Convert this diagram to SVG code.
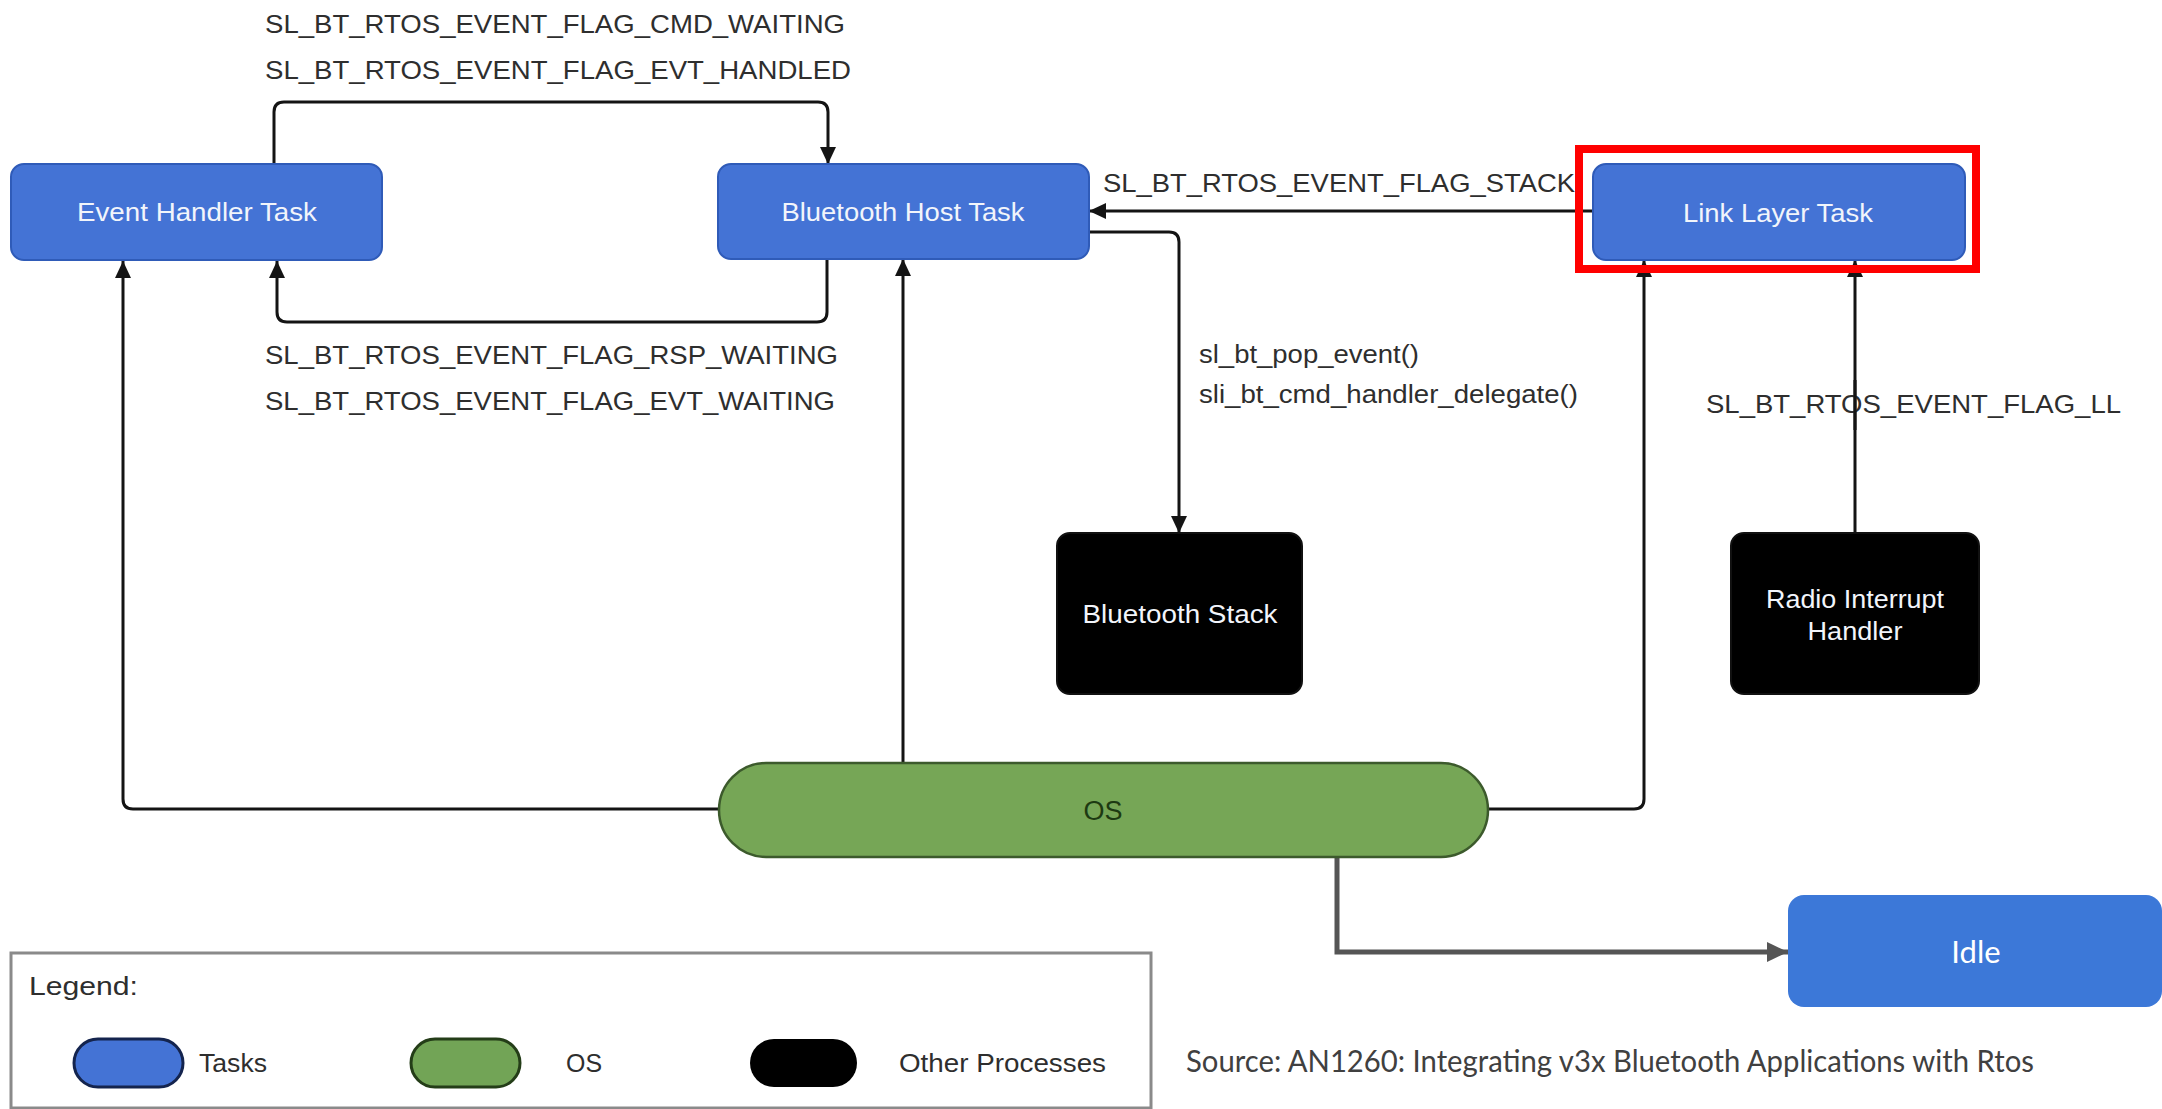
<svg xmlns="http://www.w3.org/2000/svg" width="2162" height="1109" viewBox="0 0 2162 1109">
  <style>
    .bg { fill: #ffffff; }
    .task rect { fill: #4473d5; stroke: #2f5bb8; stroke-width: 2; }
    .proc rect { fill: #000000; stroke: #111111; stroke-width: 2; }
    .os rect { fill: #76a656; stroke: #3c5a2c; stroke-width: 2.5; }
    .lbl { font-family: "Liberation Sans", Arial, Helvetica, sans-serif; font-size: 25px; fill: #2e2e2e; }
    .nodetxt { font-family: "Liberation Sans", Arial, Helvetica, sans-serif; font-size: 26px; fill: #f2f5fb; text-anchor: middle; }
    .ostxt { font-family: "Liberation Sans", Arial, Helvetica, sans-serif; font-size: 27px; fill: #1d3a12; text-anchor: middle; }
    .conn { fill: none; stroke: #141414; stroke-width: 3; }
    .conn-idle { fill: none; stroke: #555555; stroke-width: 5; }
    .callout { font-family: Lato, "Open Sans", "Liberation Sans", sans-serif; }
  </style>
  <defs>
    <marker id="arrow" markerUnits="userSpaceOnUse" markerWidth="18" markerHeight="16" refX="17" refY="8" orient="auto">
      <path d="M0,0 L17,8 L0,16 z" fill="#141414"/>
    </marker>
    <marker id="arrowGrey" markerUnits="userSpaceOnUse" markerWidth="22" markerHeight="20" refX="21" refY="10" orient="auto">
      <path d="M0,0 L21,10 L0,20 z" fill="#555555"/>
    </marker>
  </defs>

  <rect class="bg" x="0" y="0" width="2162" height="1109"/>

  <!-- connectors -->
  <g id="connectors">
    <path class="conn" d="M274,164 V112 Q274,102 284,102 H818 Q828,102 828,112 V164" marker-end="url(#arrow)"/>
    <path class="conn" d="M827,259 V312 Q827,322 817,322 H287 Q277,322 277,312 V261" marker-end="url(#arrow)"/>
    <path class="conn" d="M1593,211 H1089" marker-end="url(#arrow)"/>
    <path class="conn" d="M1089,232 H1169 Q1179,232 1179,242 V533" marker-end="url(#arrow)"/>
    <path class="conn" d="M1855,533 V260" marker-end="url(#arrow)"/>
    <path class="conn" d="M718,809 H133 Q123,809 123,799 V261" marker-end="url(#arrow)"/>
    <path class="conn" d="M903,763 V259" marker-end="url(#arrow)"/>
    <path class="conn" d="M1488,809 H1634 Q1644,809 1644,799 V260" marker-end="url(#arrow)"/>
    <path class="conn-idle" d="M1337,857 V952 H1788" marker-end="url(#arrowGrey)"/>
  </g>

  <!-- connector labels -->
  <g id="connector-labels">
    <text class="lbl" x="265" y="33" textLength="580" lengthAdjust="spacingAndGlyphs">SL_BT_RTOS_EVENT_FLAG_CMD_WAITING</text>
    <text class="lbl" x="265" y="79" textLength="586" lengthAdjust="spacingAndGlyphs">SL_BT_RTOS_EVENT_FLAG_EVT_HANDLED</text>
    <text class="lbl" x="265" y="364" textLength="573" lengthAdjust="spacingAndGlyphs">SL_BT_RTOS_EVENT_FLAG_RSP_WAITING</text>
    <text class="lbl" x="265" y="410" textLength="570" lengthAdjust="spacingAndGlyphs">SL_BT_RTOS_EVENT_FLAG_EVT_WAITING</text>
    <text class="lbl" x="1103" y="192" textLength="472" lengthAdjust="spacingAndGlyphs">SL_BT_RTOS_EVENT_FLAG_STACK</text>
    <text class="lbl" x="1199" y="363" textLength="220" lengthAdjust="spacingAndGlyphs">sl_bt_pop_event()</text>
    <text class="lbl" x="1199" y="403" textLength="379" lengthAdjust="spacingAndGlyphs">sli_bt_cmd_handler_delegate()</text>
    <text class="lbl" x="1706" y="413" textLength="415" lengthAdjust="spacingAndGlyphs">SL_BT_RTOS_EVENT_FLAG_LL</text>
  </g>
  <!-- the radio line runs over its label -->
  <path class="conn" d="M1855,430 V380"/>

  <!-- task nodes -->
  <g id="event-handler-task" class="task">
    <rect x="11" y="164" width="371" height="96" rx="13"/>
    <text class="nodetxt" x="197" y="221" textLength="240" lengthAdjust="spacingAndGlyphs">Event Handler Task</text>
  </g>
  <g id="bluetooth-host-task" class="task">
    <rect x="718" y="164" width="371" height="95" rx="13"/>
    <text class="nodetxt" x="903" y="221" textLength="243" lengthAdjust="spacingAndGlyphs">Bluetooth Host Task</text>
  </g>
  <g id="link-layer-task" class="task">
    <rect x="1593" y="164" width="372" height="96" rx="13"/>
    <text class="nodetxt" x="1778" y="222" textLength="190" lengthAdjust="spacingAndGlyphs">Link Layer Task</text>
  </g>
  <!-- highlight frame round the link layer task -->
  <rect id="highlight" x="1579" y="149" width="397" height="120" fill="none" stroke="#ff0000" stroke-width="8"/>

  <!-- other processes -->
  <g id="bluetooth-stack" class="proc">
    <rect x="1057" y="533" width="245" height="161" rx="13"/>
    <text class="nodetxt" x="1180" y="623" textLength="195" lengthAdjust="spacingAndGlyphs">Bluetooth Stack</text>
  </g>
  <g id="radio-interrupt-handler" class="proc">
    <rect x="1731" y="533" width="248" height="161" rx="13"/>
    <text class="nodetxt" x="1855" y="608" textLength="178" lengthAdjust="spacingAndGlyphs">Radio Interrupt</text>
    <text class="nodetxt" x="1855" y="640" textLength="95" lengthAdjust="spacingAndGlyphs">Handler</text>
  </g>

  <!-- operating system -->
  <g id="os" class="os">
    <rect x="719" y="763" width="769" height="94" rx="47"/>
    <text class="ostxt" x="1103" y="820">OS</text>
  </g>

  <!-- idle task -->
  <g id="idle">
    <rect x="1788" y="895" width="374" height="112" rx="16" fill="#3c78d8"/>
    <text class="callout" x="1976" y="963" font-size="31" fill="#ffffff" text-anchor="middle">Idle</text>
  </g>

  <!-- legend -->
  <g id="legend">
    <rect x="11" y="953" width="1140" height="155" fill="#ffffff" stroke="#8a8a8a" stroke-width="3"/>
    <text class="lbl" x="29" y="995" textLength="109" lengthAdjust="spacingAndGlyphs">Legend:</text>
    <rect x="74" y="1039" width="109" height="48" rx="24" fill="#4473d5" stroke="#14244e" stroke-width="3"/>
    <text class="lbl" x="199" y="1072" textLength="68" lengthAdjust="spacingAndGlyphs">Tasks</text>
    <rect x="411" y="1039" width="109" height="48" rx="24" fill="#72a456" stroke="#243d18" stroke-width="3"/>
    <text class="lbl" x="566" y="1072" textLength="36" lengthAdjust="spacingAndGlyphs">OS</text>
    <rect x="750" y="1039" width="107" height="48" rx="24" fill="#000000"/>
    <text class="lbl" x="899" y="1072" textLength="207" lengthAdjust="spacingAndGlyphs">Other Processes</text>
  </g>

  <!-- source note -->
  <text id="source" class="callout" x="1186" y="1072" font-size="31" fill="#404040" textLength="848" lengthAdjust="spacingAndGlyphs">Source: AN1260: Integrating v3x Bluetooth Applications with Rtos</text>
</svg>
